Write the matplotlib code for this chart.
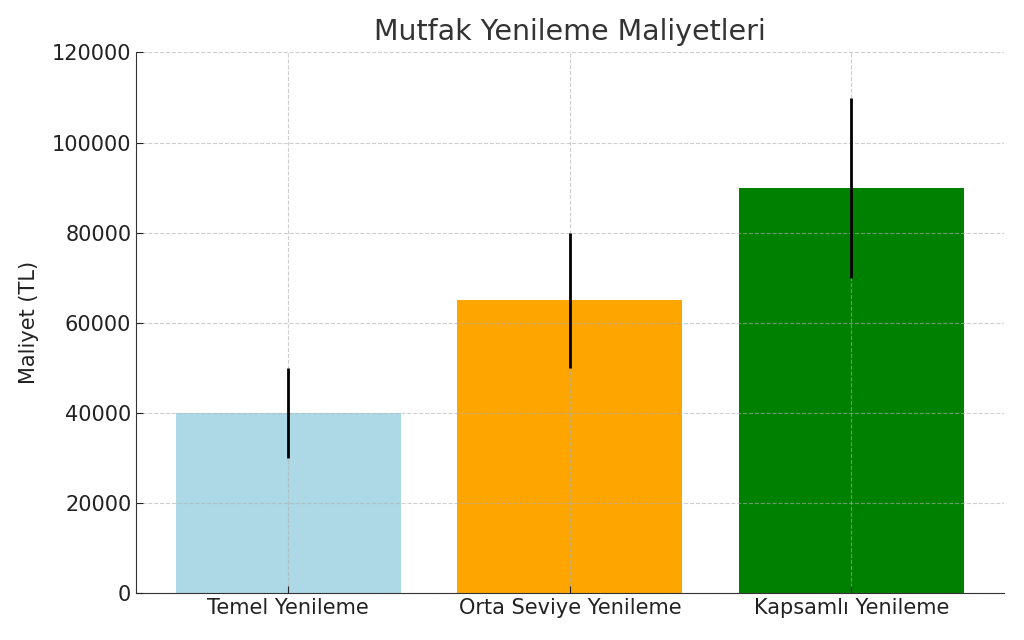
import matplotlib
matplotlib.use("Agg")
import matplotlib.pyplot as plt

categories = ["Temel Yenileme", "Orta Seviye Yenileme", "Kapsamlı Yenileme"]
costs = [40000, 65000, 90000]
errors = [10000, 15000, 20000]
colors = ["lightblue", "orange", "green"]

fig, ax = plt.subplots(figsize=(10.24, 6.4), dpi=100)
ax.bar(categories, costs, yerr=errors, color=colors, width=0.8,
       error_kw=dict(ecolor="black", elinewidth=2, capsize=0, zorder=3))
ax.set_ylim(0, 120000)
ax.set_title("Mutfak Yenileme Maliyetleri", fontsize=20.5, color="#333333", pad=9)
ax.set_ylabel("Maliyet (TL)", fontsize=15, color="#222222", labelpad=9)
ax.tick_params(axis="both", labelsize=15, colors="#222222", direction="in", length=5)
ax.set_axisbelow(False)
ax.grid(True, linestyle="--", color="#b0b0b0", alpha=0.6, linewidth=0.8)
for s in ["top", "right"]:
    ax.spines[s].set_visible(False)
ax.spines["left"].set_color("#333333")
ax.spines["bottom"].set_color("#333333")
fig.subplots_adjust(left=0.133, right=0.98, top=0.918, bottom=0.073)
fig.savefig("out.png", dpi=100)
